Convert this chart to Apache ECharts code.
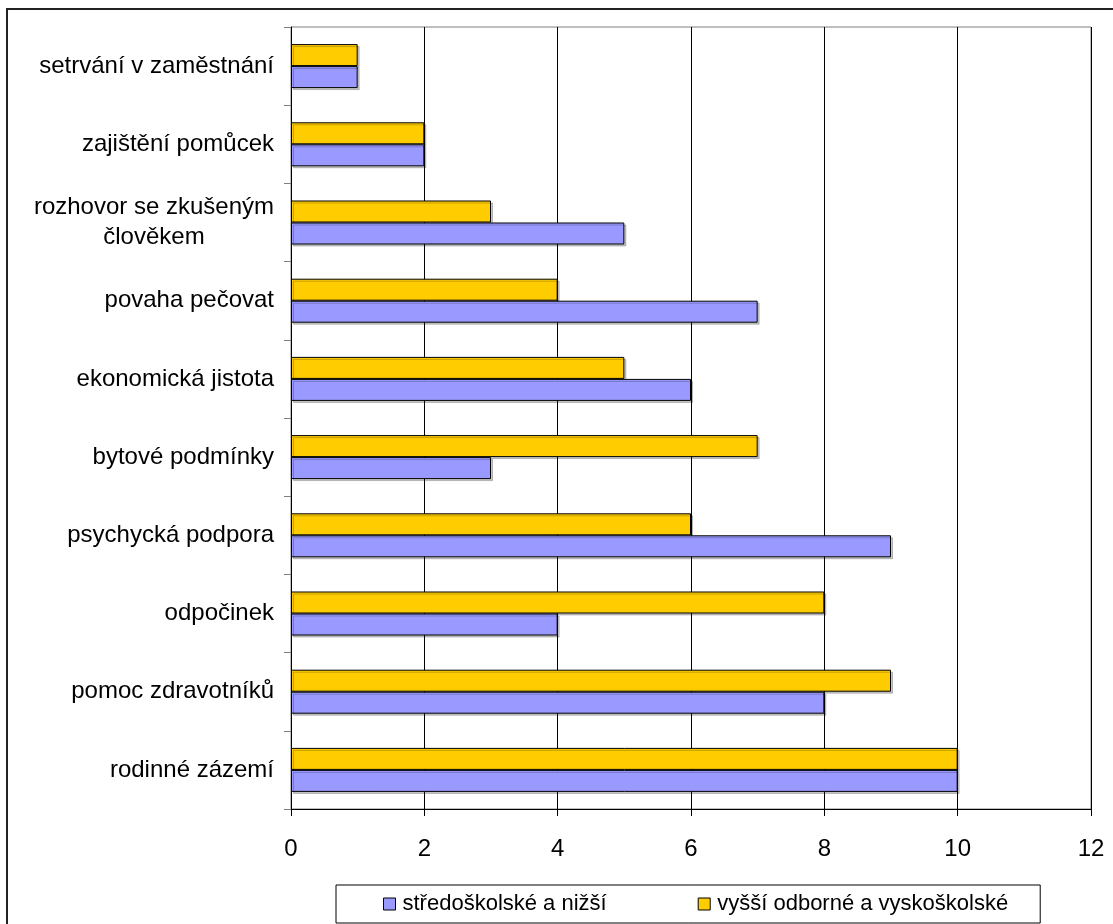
<!DOCTYPE html>
<html>
<head>
<meta charset="utf-8">
<script src="https://cdn.jsdelivr.net/npm/echarts@6/dist/echarts.min.js"></script>
<style>
  html, body { margin: 0; padding: 0; background: #fff; }
  #chart { width: 1113px; height: 924px; }
</style>
</head>
<body>
<div id="chart"></div>
<script>
// Categories listed bottom to top along the vertical axis
const categories = [
  'rodinné zázemí',
  'pomoc zdravotníků',
  'odpočinek',
  'psychycká podpora',
  'bytové podmínky',
  'ekonomická jistota',
  'povaha pečovat',
  'rozhovor se zkušeným\nčlověkem',
  'zajištění pomůcek',
  'setrvání v zaměstnání'
];
const seriesNames = ['středoškolské a nižší', 'vyšší odborné a vyskoškolské'];
const stredoskolske = [10, 8, 4, 9, 3, 6, 7, 5, 2, 1];
const vysokoskolske = [10, 9, 8, 6, 7, 5, 4, 3, 2, 1];
const xTicks = [0, 2, 4, 6, 8, 10, 12];

const FONT = 'Liberation Sans, Arial, sans-serif';
const barShadow = {
  shadowColor: 'rgba(0,0,0,0.22)',
  shadowOffsetX: 2,
  shadowOffsetY: 2,
  shadowBlur: 0
};

const chart = echarts.init(document.getElementById('chart'), null, { renderer: 'canvas' });

chart.setOption({
  backgroundColor: '#ffffff',
  animation: false,
  textStyle: { fontFamily: FONT, color: '#000' },
  graphic: [{
    type: 'rect',
    shape: { x: 7, y: 9, width: 1300, height: 1100 },
    style: { fill: 'none', stroke: '#222', lineWidth: 2 },
    silent: true,
    z: 100
  }],
  grid: {
    left: 291, top: 27, right: 22, bottom: 115,
    show: true, borderColor: '#808080', borderWidth: 1,
    containLabel: false
  },
  legend: {
    data: seriesNames,
    left: 336, top: 885,
    orient: 'horizontal',
    itemWidth: 12, itemHeight: 12, itemGap: 91,
    padding: [8, 32, 8, 47],
    borderColor: '#000', borderWidth: 1,
    icon: 'rect',
    itemStyle: { borderColor: '#000', borderWidth: 1 },
    textStyle: { fontSize: 22, color: '#000', fontFamily: FONT, padding: [0, 0, 0, 2] }
  },
  xAxis: {
    type: 'value',
    min: xTicks[0], max: xTicks[xTicks.length - 1], interval: 2,
    axisLine: { show: true, lineStyle: { color: '#000', width: 1 } },
    axisTick: { show: true, length: 7, lineStyle: { color: '#000' } },
    axisLabel: { fontSize: 24, color: '#000', margin: 28, fontFamily: FONT },
    splitLine: { show: true, lineStyle: { color: '#000', width: 1 } }
  },
  yAxis: {
    type: 'category',
    data: categories,
    axisLine: { show: true, lineStyle: { color: '#000', width: 1 } },
    axisTick: { show: true, length: 7, lineStyle: { color: '#808080' } },
    axisLabel: {
      fontSize: 24, color: '#000', margin: 17, fontFamily: FONT,
      lineHeight: 30,
      formatter: function (v) {
        return v.split('\n').map(function (s) { return '{c|' + s + '}'; }).join('\n');
      },
      rich: { c: { align: 'center', fontSize: 24, lineHeight: 30, fontFamily: FONT, color: '#000' } }
    },
    splitLine: { show: false }
  },
  // the upper bar of each pair comes first
  series: [
    {
      name: seriesNames[1],
      type: 'bar',
      data: vysokoskolske,
      barWidth: 22,
      barGap: '0%',
      itemStyle: Object.assign({ color: '#FFCC00', borderColor: '#000', borderWidth: 1 }, barShadow)
    },
    {
      name: seriesNames[0],
      type: 'bar',
      data: stredoskolske,
      barWidth: 22,
      barGap: '0%',
      itemStyle: Object.assign({ color: '#9999FF', borderColor: '#000', borderWidth: 1 }, barShadow)
    }
  ]
});
</script>
</body>
</html>
